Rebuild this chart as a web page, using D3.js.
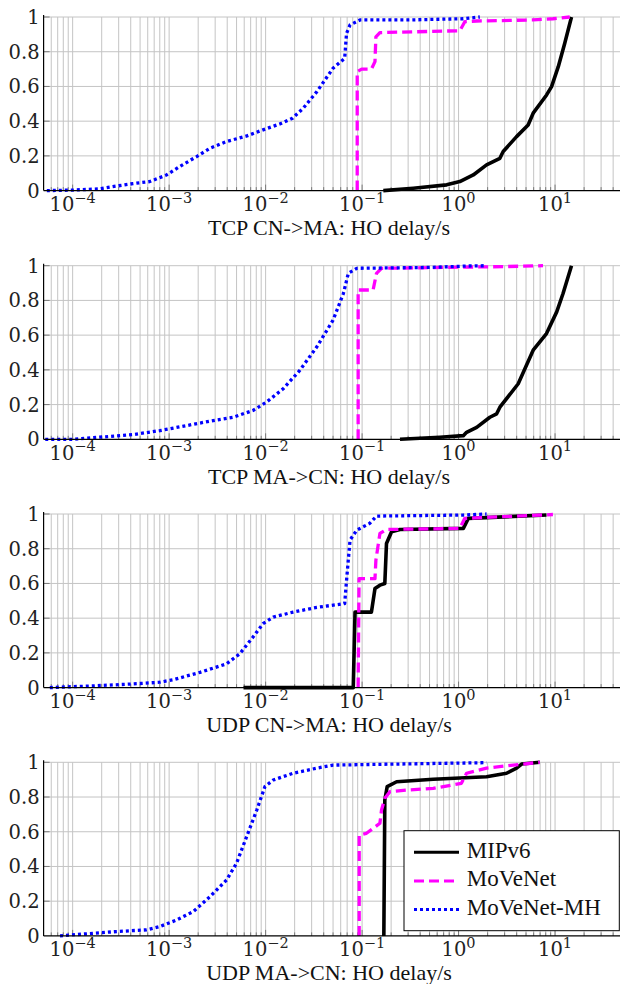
<!DOCTYPE html>
<html>
<head>
<meta charset="utf-8">
<script src="https://cdnjs.cloudflare.com/ajax/libs/d3/7.8.5/d3.min.js"></script>
<style>
  body { margin: 0; background: #fff; }
  svg { display: block; }
  .tick-label { font-family: 'DejaVu Serif', 'Noto Serif', 'Liberation Serif', serif; }
  .title, .legend-text { font-family: 'Liberation Serif', 'Times New Roman', 'DejaVu Serif', serif; }
</style>
</head>
<body>
<div id="chart"></div>
<script>
// series + panels
const seriesNames = ["MIPv6", "MoVeNet", "MoVeNet-MH"];
const panelTitles = [
  "TCP CN->MA: HO delay/s",
  "TCP MA->CN: HO delay/s",
  "UDP CN->MA: HO delay/s",
  "UDP MA->CN: HO delay/s"
];
const xTickExps = [-4, -3, -2, -1, 0, 1];
const yTicks = [0, 0.2, 0.4, 0.6, 0.8, 1];

// [delay in s, CDF]
const tcpCnMaMipv6 = [[0.166,0],[0.339,0.014],[0.752,0.033],[1.03,0.052],[1.42,0.09],[1.95,0.148],
  [2.68,0.186],[2.9,0.225],[3.99,0.311],[5.26,0.378],[5.93,0.446],[8.17,0.551],[9.2,0.599],
  [10.8,0.714],[12.6,0.849],[14.8,1.0]];
const tcpCnMaMovenet = [[0.089,0],[0.089,0.685],[0.099,0.70],[0.125,0.70],[0.136,0.743],[0.139,0.886],
  [0.153,0.91],[1.03,0.921],[1.16,0.973],[1.54,0.977],[5.9,0.983],[9.5,0.99],[14.2,1.0]];
const tcpCnMaMovenetMh = [[5.4e-5,0],[1.0e-4,0.003],[1.9e-4,0.01],[2.6e-4,0.023],[4.2e-4,0.04],
  [6.3e-4,0.052],[9.4e-4,0.09],[1.3e-3,0.14],[1.93e-3,0.196],[2.65e-3,0.244],[3.9e-3,0.282],
  [6.4e-3,0.315],[9.4e-3,0.35],[1.4e-2,0.384],[1.9e-2,0.417],[2.45e-2,0.474],[3.4e-2,0.57],
  [5.0e-2,0.705],[6.6e-2,0.762],[6.9e-2,0.906],[7.5e-2,0.954],[9.5e-2,0.983],[0.3,0.983],
  [1.12,0.99],[1.66,1.0]];

const tcpMaCnMipv6 = [[0.247,0],[0.64,0.012],[1.12,0.021],[1.21,0.04],[1.54,0.069],[2.11,0.127],
  [2.48,0.147],[2.68,0.185],[4.15,0.32],[5.93,0.513],[8.15,0.609],[10.4,0.734],[12.1,0.84],[14.8,1.0]];
const tcpMaCnMovenet = [[0.091,0],[0.091,0.86],[0.13,0.86],[0.141,0.956],[0.159,0.985],[3.0,0.995],[7.5,1.0]];
const tcpMaCnMovenetMh = [[5.2e-5,0],[1.0e-4,0],[1.9e-4,0.012],[4.2e-4,0.027],[8.0e-4,0.05],
  [1.52e-3,0.079],[2.86e-3,0.108],[4.6e-3,0.127],[7.4e-3,0.166],[1.02e-2,0.214],[1.52e-2,0.291],
  [2.26e-2,0.397],[3.37e-2,0.53],[5.0e-2,0.686],[6.4e-2,0.84],[7.2e-2,0.956],[8.8e-2,0.985],
  [0.5,0.99],[1.21,0.998],[1.95,1.0]];

const udpCnMaMipv6 = [[5.9e-3,0],[0.081,0],[0.0845,0.435],[0.125,0.435],[0.136,0.571],[0.153,0.59],
  [0.172,0.6],[0.179,0.83],[0.202,0.898],[0.247,0.911],[1.12,0.917],[1.26,0.975],[8.15,0.994]];
const udpCnMaMovenet = [[0.091,0],[0.093,0.628],[0.136,0.628],[0.139,0.734],[0.153,0.888],
  [0.179,0.911],[1.03,0.917],[1.16,0.975],[9.5,0.997]];
const udpCnMaMovenetMh = [[5.8e-5,0],[1.63e-4,0.01],[4.2e-4,0.021],[8.0e-4,0.031],[1.1e-3,0.045],
  [2.09e-3,0.088],[3.94e-3,0.137],[5.4e-3,0.195],[7.4e-3,0.291],[9.4e-3,0.368],[1.2e-2,0.406],
  [1.93e-2,0.435],[3.4e-2,0.462],[6.6e-2,0.484],[6.9e-2,0.618],[7.5e-2,0.85],[8.8e-2,0.907],
  [0.12,0.946],[0.141,0.988],[1.12,0.994],[1.95,1.0]];

const udpMaCnMipv6 = [[0.168,0],[0.172,0.783],[0.182,0.86],[0.228,0.888],[0.546,0.902],[1.95,0.917],
  [3.14,0.937],[3.99,0.966],[4.5,0.99],[6.96,1.0]];
const udpMaCnMovenet = [[0.0933,0],[0.0933,0.581],[0.111,0.591],[0.153,0.649],[0.159,0.725],
  [0.172,0.793],[0.194,0.831],[0.289,0.84],[0.546,0.85],[1.07,0.879],[1.21,0.937],[1.95,0.966],
  [3.68,0.984],[6.96,1.0]];
const udpMaCnMovenetMh = [[7.4e-5,0],[1.63e-4,0.015],[2.86e-4,0.025],[5.85e-4,0.035],[8.0e-4,0.054],
  [1.2e-3,0.092],[1.78e-3,0.14],[2.65e-3,0.226],[3.94e-3,0.322],[5.0e-3,0.419],[6.36e-3,0.572],
  [8.1e-3,0.725],[9.84e-3,0.86],[1.2e-2,0.898],[1.93e-2,0.937],[3.37e-2,0.966],[5.0e-2,0.984],
  [1.95,0.998]];

const panelSeries = [
  [tcpCnMaMipv6, tcpCnMaMovenet, tcpCnMaMovenetMh],
  [tcpMaCnMipv6, tcpMaCnMovenet, tcpMaCnMovenetMh],
  [udpCnMaMipv6, udpCnMaMovenet, udpCnMaMovenetMh],
  [udpMaCnMipv6, udpMaCnMovenet, udpMaCnMovenetMh]
];

const colors = ["#000000", "#ff00ff", "#0000ff"];
const dashes = [null, "10,5", "3,3"];

const W = 620, H = 984;
const left = 43.6, right = 622.5;
const panelTops = [17, 265.7, 514, 762.3];
const panelH = 173.6;
const gridColor = "#c4c4c4";

const svg = d3.select("#chart").append("svg")
  .attr("width", W)
  .attr("height", H)
  .attr("viewBox", `0 0 ${W} ${H}`);

svg.append("defs").append("clipPath").attr("id", "clip")
  .append("rect").attr("x", left).attr("y", 0).attr("width", W - left).attr("height", H);

const x = d3.scaleLog().domain([5e-5, 50]).range([left, right]);

panelSeries.forEach(function (series, pi) {
  const top = panelTops[pi], bottom = top + panelH;
  const y = d3.scaleLinear().domain([0, 1]).range([bottom, top]);

  const g = svg.append("g").attr("clip-path", "url(#clip)");

  // minor + major vertical grid
  const allTicks = x.ticks();
  const isMajor = v => Math.abs(Math.log10(v) - Math.round(Math.log10(v))) < 1e-6;
  g.selectAll("line.vgrid")
    .data(allTicks.filter(v => x(v) > left + 0.5))
    .enter().append("line")
    .attr("class", "vgrid")
    .attr("x1", d => x(d)).attr("x2", d => x(d))
    .attr("y1", top).attr("y2", bottom)
    .attr("stroke", gridColor).attr("stroke-width", 1);

  g.selectAll("line.hgrid")
    .data(yTicks.filter(v => v > 0))
    .enter().append("line")
    .attr("class", "hgrid")
    .attr("x1", left).attr("x2", W)
    .attr("y1", d => y(d)).attr("y2", d => y(d))
    .attr("stroke", gridColor).attr("stroke-width", 1);

  // inner ticks
  g.selectAll("line.xtick")
    .data(allTicks.filter(v => x(v) > left + 0.5))
    .enter().append("line")
    .attr("x1", d => x(d)).attr("x2", d => x(d))
    .attr("y1", bottom).attr("y2", d => bottom - (isMajor(d) ? 6 : 3.5))
    .attr("stroke", "#7a7a7a").attr("stroke-width", 1);

  g.selectAll("line.ytick")
    .data(yTicks.filter(v => v > 0))
    .enter().append("line")
    .attr("x1", left).attr("x2", left + 6)
    .attr("y1", d => y(d)).attr("y2", d => y(d))
    .attr("stroke", "#7a7a7a").attr("stroke-width", 1);

  // curves
  const line = d3.line().x(d => x(d[0])).y(d => y(d[1]));
  series.forEach(function (data, si) {
    g.append("path")
      .datum(data)
      .attr("fill", "none")
      .attr("stroke", colors[si])
      .attr("stroke-width", si === 0 ? 3.6 : 3.3)
      .attr("stroke-linejoin", "round")
      .attr("stroke-dasharray", dashes[si])
      .attr("d", line);
  });

  // axis lines
  svg.append("line")
    .attr("x1", left).attr("x2", left)
    .attr("y1", top - 2).attr("y2", bottom)
    .attr("stroke", "#000").attr("stroke-width", 1.2);
  svg.append("line")
    .attr("x1", left).attr("x2", W)
    .attr("y1", bottom).attr("y2", bottom)
    .attr("stroke", "#000").attr("stroke-width", 1.2);

  // y tick labels
  svg.selectAll(null)
    .data(yTicks)
    .enter().append("text")
    .attr("class", "tick-label")
    .attr("x", left - 4)
    .attr("y", d => y(d) + 7)
    .attr("text-anchor", "end")
    .attr("font-size", 19.5)
    .attr("fill", "#222")
    .text(d => d === 0 ? "0" : d === 1 ? "1" : d3.format(".1f")(d));

  // x tick labels
  const xt = svg.selectAll(null)
    .data(xTickExps)
    .enter().append("text")
    .attr("class", "tick-label")
    .attr("x", d => x(Math.pow(10, d)))
    .attr("y", bottom + 20.5)
    .attr("text-anchor", "middle")
    .attr("font-size", 19.5)
    .attr("fill", "#222");
  xt.append("tspan").text("10");
  xt.append("tspan")
    .attr("dy", -8.5)
    .attr("font-size", 14.5)
    .text(d => d < 0 ? "\u2212" + Math.abs(d) : String(d));

  // x axis title
  svg.append("text")
    .attr("class", "title")
    .attr("x", 329)
    .attr("y", bottom + 44.5)
    .attr("text-anchor", "middle")
    .attr("font-size", 22)
    .attr("fill", "#111")
    .text(panelTitles[pi]);
});

// legend in the last panel
const lg = svg.append("g").attr("transform", `translate(404,${panelTops[3] + 68.4})`);
lg.append("rect")
  .attr("width", 215.3).attr("height", 100)
  .attr("fill", "#fff").attr("stroke", "#000").attr("stroke-width", 1);
seriesNames.forEach(function (name, i) {
  const yy = 27 + i * 28.7;
  lg.append("line")
    .attr("x1", 10).attr("x2", 55)
    .attr("y1", yy - 5.5).attr("y2", yy - 5.5)
    .attr("stroke", colors[i]).attr("stroke-width", 3)
    .attr("stroke-dasharray", dashes[i]);
  lg.append("text")
    .attr("class", "legend-text")
    .attr("x", 62.7).attr("y", yy)
    .attr("font-size", 23)
    .attr("fill", "#111")
    .text(name);
});
</script>
</body>
</html>
